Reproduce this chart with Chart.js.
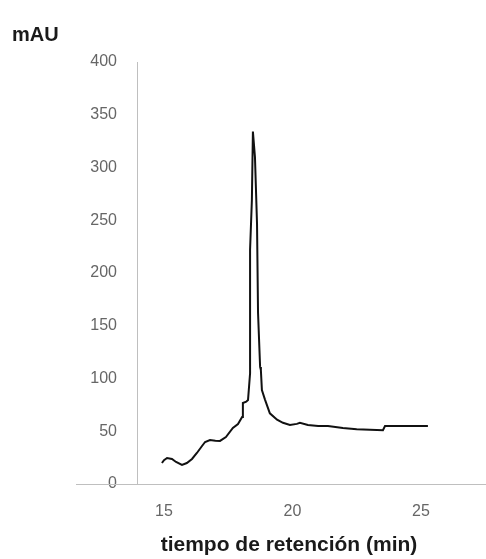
<!DOCTYPE html>
<html>
<head>
<meta charset="utf-8">
<script src="https://cdn.jsdelivr.net/npm/chart.js@4"></script>
<style>
    body { margin: 0; background: #fff; }
    canvas { display: block; }
</style>
</head>
<body>
<canvas id="chromatogram" width="486" height="559"></canvas>
<script>
// Chromatogram values
const retentionTime = [14.92, 15.0, 15.12, 15.31, 15.47, 15.7, 15.89, 16.09, 16.28, 16.48, 16.6, 16.79, 17.0, 17.18, 17.41, 17.68, 17.88, 18.04, 18.07, 18.2, 18.27, 18.35, 18.35, 18.42, 18.46, 18.54, 18.62, 18.66, 18.74, 18.77, 18.81, 18.93, 19.12, 19.4, 19.63, 19.9, 20.17, 20.29, 20.6, 21.0, 21.38, 21.96, 22.5, 23.52, 23.6, 24.5, 25.27];
const absorbance = [19.9, 22.5, 24.6, 23.7, 20.9, 18.0, 19.9, 23.7, 29.4, 36.0, 39.8, 41.7, 41.0, 40.8, 44.5, 53.1, 56.9, 63.5, 76.8, 78.0, 79.6, 105, 222, 269, 334, 310, 247, 162, 111, 108, 89, 80, 67, 61, 58, 56, 57, 58, 56, 55, 55, 53, 52, 51, 55, 55, 55];

const xTicks = [15, 20, 25];
const yTicks = [0, 50, 100, 150, 200, 250, 300, 350, 400];

const yLabel = 'mAU';
const xLabel = 'tiempo de retención (min)';

const points = retentionTime.map((t, i) => ({ x: t, y: absorbance[i] }));

// the zero line runs on to the left through the "0" label, and the
// x title sits a little left of the plot centre, as in the original
const axisExtras = {
    id: 'axisExtras',
    afterDraw(chart) {
        const { ctx, chartArea, scales } = chart;
        const y = Math.round(scales.y.getPixelForValue(0)) + 0.5;
        ctx.save();
        ctx.strokeStyle = '#bfbfbf';
        ctx.lineWidth = 1;
        ctx.beginPath();
        ctx.moveTo(chartArea.left - 61, y);
        ctx.lineTo(chartArea.left, y);
        ctx.stroke();

        ctx.fillStyle = '#1a1a1a';
        ctx.font = 'bold 21px "Liberation Sans"';
        ctx.textAlign = 'center';
        ctx.textBaseline = 'middle';
        ctx.fillText(xLabel, (chartArea.left - 45 + chartArea.right) / 2, scales.x.bottom - 14);
        ctx.restore();
    }
};

const ctx = document.getElementById('chromatogram').getContext('2d');
new Chart(ctx, {
    type: 'scatter',
    data: {
        datasets: [{
            data: points,
            showLine: true,
            borderColor: '#111',
            borderWidth: 2,
            pointRadius: 0,
            tension: 0
        }]
    },
    options: {
        responsive: false,
        animation: false,
        devicePixelRatio: 1,
        layout: { padding: { left: 12, right: 0, top: 0, bottom: 0 } },
        plugins: {
            legend: { display: false },
            tooltip: { enabled: false },
            title: {
                display: true,
                text: yLabel,
                align: 'start',
                color: '#1a1a1a',
                font: { family: 'Liberation Sans', size: 20, weight: 'bold' },
                padding: { top: 23, bottom: 15 }
            }
        },
        scales: {
            x: {
                type: 'linear',
                min: 13.95,
                max: 27.53,
                afterBuildTicks: scale => { scale.ticks = xTicks.map(v => ({ value: v })); },
                afterFit: scale => { scale.height = 75; },
                grid: { display: false, drawTicks: false },
                border: { display: true, color: '#bfbfbf', width: 1 },
                ticks: {
                    color: '#666',
                    padding: 18,
                    font: { family: 'Liberation Sans', size: 16 }
                }
            },
            y: {
                min: 0,
                max: 400,
                afterBuildTicks: scale => { scale.ticks = yTicks.map(v => ({ value: v })); },
                afterFit: scale => { scale.width = 125; },
                grid: { display: false, drawTicks: false },
                border: { display: true, color: '#bfbfbf', width: 1 },
                ticks: {
                    color: '#666',
                    padding: 20,
                    font: { family: 'Liberation Sans', size: 16 }
                }
            }
        }
    },
    plugins: [axisExtras]
});
</script>
</body>
</html>
